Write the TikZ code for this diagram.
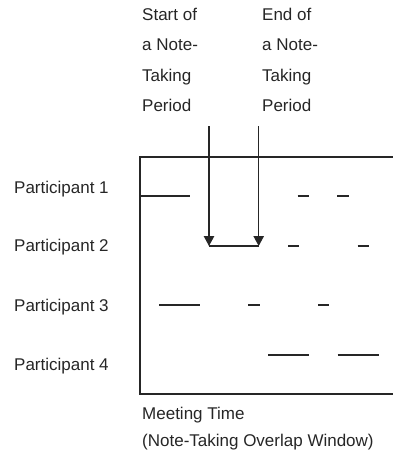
\documentclass[tikz,border=0pt]{standalone}
\usepackage{fontspec}
\setmainfont{Liberation Sans}
\usetikzlibrary{arrows.meta}
\begin{document}
\begin{tikzpicture}[x=1pt,y=-1pt,
  lbl/.style={anchor=base west,inner sep=0pt,font=\fontsize{17}{20}\selectfont,text=black!85},
  rule/.style={line width=1.1pt,black!85},
  tipline/.style={rule,-{Triangle[length=10pt,width=10.5pt]}}]
\useasboundingbox (0,0) rectangle (392,454);

% header labels above the two arrows
\foreach \t [count=\i] in {Start of,a Note-,Taking,Period}
  \node[lbl] (s\i) at (142,{20.7+30.3*(\i-1)}) {\t};
\foreach \t [count=\i] in {End of,a Note-,Taking,Period}
  \node[lbl] (e\i) at (262,{20.7+30.3*(\i-1)}) {\t};

% participant labels
\node[lbl] (p1) at (14,193.3) {Participant 1};
\node[lbl] (p2) at (14,251.7) {Participant 2};
\node[lbl] (p3) at (14,311.7) {Participant 3};
\node[lbl] (p4) at (14,370) {Participant 4};

% meeting time window (open to the right)
\draw[rule] (400,157) -- (140,157) -- (140,394) -- (400,394);

% note-taking activity per participant
\draw[rule] (140,196) -- (190,196);
\draw[rule] (297.7,196) -- (309.3,196);
\draw[rule] (337.3,196) -- (349,196);

\draw[rule] (288.3,246) -- (299.3,246);
\draw[rule] (357.7,246) -- (368.7,246);

\draw[rule] (159.3,305) -- (200,305);
\draw[rule] (248.3,305) -- (260,305);
\draw[rule] (318.3,305) -- (329,305);

\draw[rule] (268.3,355) -- (309,355);
\draw[rule] (337.7,355) -- (378.7,355);

% start and end of the note-taking period
\coordinate (sa) at (209,126.5);
\coordinate (sb) at (209,246);
\coordinate (ea) at (258.7,126.5);
\coordinate (eb) at (258.7,246);
\draw[tipline] (sa) -- (sb);
\draw[tipline] (ea) -- (eb);
\draw[rule] (sb) -- (eb);

% axis caption
\node[lbl] (m1) at (142,419) {Meeting Time};
\node[lbl] (m2) at (142,446) {(Note-Taking Overlap Window)};
\end{tikzpicture}
\end{document}
